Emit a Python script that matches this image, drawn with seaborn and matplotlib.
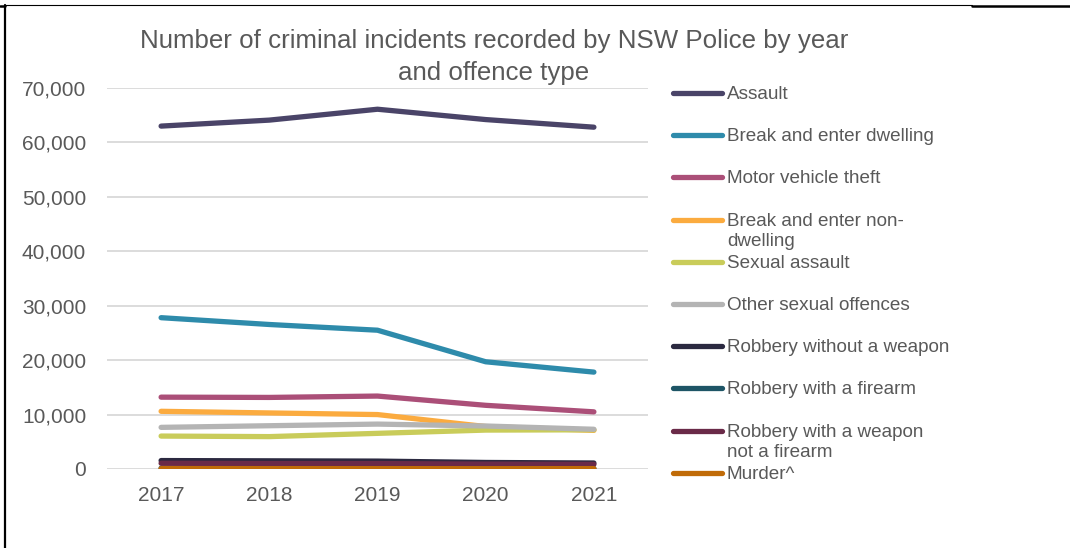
import pandas as pd
import seaborn as sns
import matplotlib.pyplot as plt
from matplotlib.lines import Line2D

# values
years = [2017, 2018, 2019, 2020, 2021]

offence_types = [
    "Assault",
    "Break and enter dwelling",
    "Motor vehicle theft",
    "Break and enter non-\ndwelling",
    "Sexual assault",
    "Other sexual offences",
    "Robbery without a weapon",
    "Robbery with a firearm",
    "Robbery with a weapon\nnot a firearm",
    "Murder^",
]

assault = [63000, 64100, 66100, 64200, 62800]
break_enter_dwelling = [27800, 26550, 25500, 19700, 17800]
motor_vehicle_theft = [13200, 13150, 13400, 11700, 10500]
break_enter_non_dwelling = [10600, 10300, 10000, 7800, 7100]
sexual_assault = [6050, 5950, 6550, 7150, 7200]
other_sexual_offences = [7650, 7950, 8250, 7900, 7300]
robbery_no_weapon = [1550, 1500, 1450, 1200, 1100]
robbery_firearm = [150, 130, 120, 100, 90]
robbery_weapon_not_firearm = [1050, 1000, 1000, 900, 850]
murder = [80, 70, 70, 60, 70]

series_values = [
    assault, break_enter_dwelling, motor_vehicle_theft, break_enter_non_dwelling,
    sexual_assault, other_sexual_offences, robbery_no_weapon, robbery_firearm,
    robbery_weapon_not_firearm, murder,
]

colours = ["#4a4468", "#2e8bab", "#ab4f78", "#fbab3f", "#c9cc5a",
           "#b4b4b4", "#2b2940", "#1e5566", "#6a2a48", "#c06b08"]

y_ticks = [0, 10000, 20000, 30000, 40000, 50000, 60000, 70000]

title = "Number of criminal incidents recorded by NSW Police by year\nand offence type"

# long-form table for seaborn
rows = []
for name, vals in zip(offence_types, series_values):
    for yr, v in zip(years, vals):
        rows.append({"year": yr, "offence": name, "count": v})
df = pd.DataFrame(rows)

sns.set_style("white")
plt.rcParams['font.family'] = ['Liberation Sans', 'DejaVu Sans']
grey_text = "#595959"

fig = plt.figure(figsize=(10.7, 5.48), dpi=100)
ax = fig.add_axes([107 / 1070, 1 - 469 / 548, 541 / 1070, 381 / 548])

sns.lineplot(data=df, x="year", y="count", hue="offence", hue_order=offence_types,
             palette=colours, linewidth=3.8, legend=False, ax=ax,
             solid_capstyle="round", zorder=3)

ax.set_xlim(2016.5, 2021.5)
ax.set_ylim(0, 70000)
ax.set_xticks(years)
ax.set_xticklabels([str(y) for y in years])
ax.set_yticks(y_ticks)
ax.set_yticklabels([f"{v:,}" for v in y_ticks])
ax.tick_params(axis="both", length=0, labelsize=15, colors=grey_text)
ax.tick_params(axis="y", pad=15)
ax.tick_params(axis="x", pad=12)
ax.grid(axis="y", color="#d9d9d9", linewidth=1.3, zorder=0)
ax.set_xlabel("")
ax.set_ylabel("")
for s in ax.spines.values():
    s.set_visible(False)

fig.text(494 / 1070, 1 - 29 / 548, title, ha="center", va="top",
         fontsize=18.6, color=grey_text, linespacing=1.4)

# legend, one slot per entry like the original
top_y = 93
step = 42.2
for i, (name, col) in enumerate(zip(offence_types, colours)):
    yy = 1 - (top_y + i * step) / 548
    fig.add_artist(Line2D([673 / 1070, 722 / 1070], [yy, yy], color=col,
                          linewidth=3.8, solid_capstyle="round"))
    fig.text(727 / 1070, yy + 7 / 548, name, ha="left", va="top",
             fontsize=13.6, color=grey_text, linespacing=1.25)

# frame bits around the picture
fig.add_artist(Line2D([4.5 / 1070, 4.5 / 1070], [0, 1 - 5 / 548], color="black", linewidth=1.6))
fig.add_artist(Line2D([5 / 1070, 972 / 1070], [1 - 5 / 548, 1 - 5 / 548], color="black", linewidth=0.8))
fig.add_artist(Line2D([972 / 1070, 1], [1 - 5.5 / 548, 1 - 5.5 / 548], color="black", linewidth=1.8))
fig.add_artist(Line2D([0, 5 / 1070], [1 - 5.5 / 548, 1 - 5.5 / 548], color="black", linewidth=1.8))

plt.savefig("out.png", dpi=100)
